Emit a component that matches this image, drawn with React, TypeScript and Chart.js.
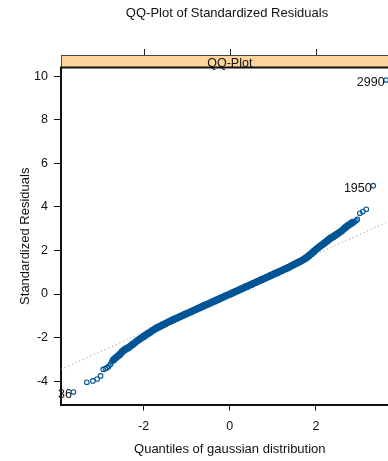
import { useEffect, useRef } from "react";
import { Chart, registerables } from "chart.js";

Chart.register(...registerables);

const chartTitle = "QQ-Plot of Standardized Residuals";
const stripLabel = "QQ-Plot";
const xAxisLabel = "Quantiles of gaussian distribution";
const yAxisLabel = "Standardized Residuals";

// lower tail: theoretical gaussian quantiles and sorted standardized residuals
const lowerTailQuantiles = [-3.63, -3.32, -3.18, -3.08, -3.0, -2.94, -2.89, -2.85, -2.81, -2.77, -2.74];
const lowerTailResiduals = [-4.5, -4.05, -3.99, -3.9, -3.76, -3.46, -3.42, -3.38, -3.32, -3.22, -3.1];

// dense central part of the sample
const centralQuantiles = [
  -2.7, -2.65, -2.6, -2.55, -2.5, -2.45, -2.4, -2.35, -2.3, -2.25,
  -2.2, -2.15, -2.1, -2.05, -2.0, -1.95, -1.9, -1.85, -1.8, -1.75,
  -1.7, -1.65, -1.6, -1.55, -1.5, -1.45, -1.4, -1.35, -1.3, -1.25,
  -1.2, -1.15, -1.1, -1.05, -1.0, -0.95, -0.9, -0.85, -0.8, -0.75,
  -0.7, -0.65, -0.6, -0.55, -0.5, -0.45, -0.4, -0.35, -0.3, -0.25,
  -0.2, -0.15, -0.1, -0.05, 0.0, 0.05, 0.1, 0.15, 0.2, 0.25,
  0.3, 0.35, 0.4, 0.45, 0.5, 0.55, 0.6, 0.65, 0.7, 0.75,
  0.8, 0.85, 0.9, 0.95, 1.0, 1.05, 1.1, 1.15, 1.2, 1.25,
  1.3, 1.35, 1.4, 1.45, 1.5, 1.55, 1.6, 1.65, 1.7, 1.75,
  1.8, 1.85, 1.9, 1.95, 2.0, 2.05, 2.1, 2.15, 2.2, 2.25,
  2.3, 2.35, 2.4, 2.45, 2.5, 2.55, 2.6, 2.65, 2.7, 2.75,
  2.8, 2.85,
];
const centralResiduals = [
  -3.02, -2.93, -2.85, -2.76, -2.65, -2.57, -2.51, -2.45, -2.38, -2.3,
  -2.23, -2.15, -2.08, -2.01, -1.95, -1.88, -1.81, -1.75, -1.68, -1.62,
  -1.56, -1.51, -1.46, -1.41, -1.36, -1.31, -1.26, -1.21, -1.17, -1.12,
  -1.08, -1.03, -0.99, -0.94, -0.9, -0.85, -0.81, -0.76, -0.72, -0.67,
  -0.63, -0.58, -0.54, -0.49, -0.45, -0.41, -0.36, -0.32, -0.27, -0.23,
  -0.18, -0.14, -0.09, -0.05, -0.01, 0.04, 0.08, 0.13, 0.17, 0.22,
  0.26, 0.31, 0.35, 0.4, 0.44, 0.49, 0.53, 0.58, 0.62, 0.67,
  0.71, 0.76, 0.8, 0.85, 0.89, 0.94, 0.98, 1.03, 1.07, 1.12,
  1.16, 1.21, 1.26, 1.31, 1.36, 1.41, 1.46, 1.51, 1.57, 1.63,
  1.7, 1.78, 1.86, 1.95, 2.04, 2.12, 2.2, 2.27, 2.34, 2.42,
  2.5, 2.57, 2.63, 2.7, 2.76, 2.83, 2.9, 2.99, 3.08, 3.15,
  3.22, 3.28,
];

// upper tail
const upperTailQuantiles = [2.89, 2.93, 2.96, 3.02, 3.09, 3.17, 3.33, 3.63];
const upperTailResiduals = [3.32, 3.36, 3.42, 3.7, 3.78, 3.89, 4.97, 9.82];

// identified observations
const idLabels = ["36", "1950", "2990"];
const idQuantiles = [lowerTailQuantiles[0], upperTailQuantiles[6], upperTailQuantiles[7]];
const idResiduals = [lowerTailResiduals[0], upperTailResiduals[6], upperTailResiduals[7]];

// reference line
const refLineX = [-3.92, 3.92];
const refLineY = [-3.46, 3.54];

const xTickValues = [-2, 0, 2];
const yTickValues = [-4, -2, 0, 2, 4, 6, 8, 10];
const xLimits = [-3.92, 3.92];
const yLimits = [-5.07, 10.37];

const FONT = "'Liberation Sans', Arial, Helvetica, sans-serif";
const POINT_COLOR = "#005596";

const W = 454;
const H = 461;
const PANEL_RIGHT = 398.6;

const toXY = (xs: number[], ys: number[]) => xs.map((x, i) => ({ x, y: ys[i] }));

const panelDecor = {
  id: "panelDecor",
  afterDatasetsDraw(chart: any) {
    const { ctx, chartArea: ca, scales } = chart;
    const xs = scales.x;
    const ys = scales.y;
    const stripH = 13;
    const stripTop = ca.top - stripH;
    ctx.save();
    ctx.fillStyle = "#FFD49A";
    ctx.fillRect(ca.left, stripTop, ca.right - ca.left, stripH);
    ctx.strokeStyle = "#4a4a4a";
    ctx.lineWidth = 1;
    ctx.beginPath();
    ctx.moveTo(ca.left, stripTop + 0.5);
    ctx.lineTo(ca.right, stripTop + 0.5);
    ctx.moveTo(ca.left + 0.5, stripTop);
    ctx.lineTo(ca.left + 0.5, ca.top);
    ctx.stroke();
    ctx.strokeStyle = "#222";
    ctx.beginPath();
    for (const t of xs.ticks) {
      const px = Math.round(xs.getPixelForValue(t.value)) + 0.5;
      ctx.moveTo(px, stripTop);
      ctx.lineTo(px, stripTop - 6);
    }
    ctx.stroke();
    ctx.strokeStyle = "#111";
    ctx.lineWidth = 2;
    ctx.beginPath();
    ctx.moveTo(ca.left - 1, ca.top - 0.5);
    ctx.lineTo(ca.right, ca.top - 0.5);
    ctx.stroke();
    ctx.fillStyle = "#111";
    ctx.font = `12.5px ${FONT}`;
    ctx.textAlign = "center";
    ctx.textBaseline = "middle";
    ctx.fillText(stripLabel, (ca.left + ca.right) / 2, stripTop + 8.5);
    ctx.textAlign = "right";
    idLabels.forEach((lab, i) => {
      const px = xs.getPixelForValue(idQuantiles[i]);
      const py = ys.getPixelForValue(idResiduals[i]);
      ctx.fillText(lab, px - 1.5, py + 2.5);
    });
    ctx.restore();
  },
};

export default function App() {
  const ref = useRef<HTMLCanvasElement | null>(null);

  useEffect(() => {
    if (!ref.current) return;
    const ringStyle = {
      pointStyle: "circle",
      pointRadius: 2.3,
      pointBorderWidth: 1.1,
      pointBackgroundColor: "rgba(0,0,0,0)",
      pointBorderColor: POINT_COLOR,
      showLine: false,
    };
    const chart = new Chart(ref.current, {
      type: "scatter",
      data: {
        datasets: [
          { data: toXY(lowerTailQuantiles, lowerTailResiduals), ...ringStyle } as any,
          {
            data: toXY(centralQuantiles, centralResiduals),
            pointStyle: "circle",
            pointRadius: 3.0,
            pointBorderWidth: 1.3,
            pointBackgroundColor: POINT_COLOR,
            pointBorderColor: POINT_COLOR,
            showLine: false,
          } as any,
          { data: toXY(upperTailQuantiles, upperTailResiduals), ...ringStyle } as any,
          {
            data: toXY(refLineX, refLineY),
            showLine: true,
            borderColor: "#8a8a8a",
            borderWidth: 1,
            borderDash: [1, 3],
            pointRadius: 0,
            fill: false,
          } as any,
        ],
      },
      options: {
        responsive: false,
        animation: false,
        devicePixelRatio: 1,
        events: [],
        layout: { padding: 0 },
        plugins: {
          legend: { display: false },
          tooltip: { enabled: false },
          title: {
            display: true,
            text: chartTitle,
            color: "#111",
            font: { family: FONT, size: 13, weight: "normal", lineHeight: 1.2 },
            padding: { top: 6, bottom: 68 - 6 - 15.6 },
          },
        },
        scales: {
          x: {
            type: "linear",
            position: "bottom",
            min: xLimits[0],
            max: xLimits[1],
            afterBuildTicks: (s: any) => {
              s.ticks = xTickValues.map((v) => ({ value: v }));
            },
            afterFit: (s: any) => {
              s.height = H - 404.5;
            },
            grid: { drawOnChartArea: false, drawTicks: true, tickLength: 6, color: "#111", lineWidth: 1 },
            border: { display: true, color: "#111", width: 2 },
            ticks: {
              color: "#111",
              padding: 9,
              maxRotation: 0,
              autoSkip: false,
              font: { family: FONT, size: 12.5 },
              callback: (v: any) => String(v),
            },
            title: {
              display: true,
              text: xAxisLabel,
              color: "#111",
              font: { family: FONT, size: 13, lineHeight: 1.2 },
              padding: { top: 0, bottom: 4.2 },
            },
          },
          y: {
            type: "linear",
            position: "left",
            min: yLimits[0],
            max: yLimits[1],
            afterBuildTicks: (s: any) => {
              s.ticks = yTickValues.map((v) => ({ value: v }));
            },
            afterFit: (s: any) => {
              s.width = 61;
            },
            grid: { drawOnChartArea: false, drawTicks: true, tickLength: 7, color: "#111", lineWidth: 1 },
            border: { display: true, color: "#111", width: 2 },
            ticks: {
              color: "#111",
              padding: 6,
              autoSkip: false,
              font: { family: FONT, size: 12.5 },
              callback: (v: any) => String(v),
            },
            title: {
              display: true,
              text: yAxisLabel,
              color: "#111",
              font: { family: FONT, size: 13, lineHeight: 1.2 },
              padding: { top: 18, bottom: 0 },
            },
          },
          yRightSpace: {
            type: "linear",
            position: "right",
            min: yLimits[0],
            max: yLimits[1],
            afterFit: (s: any) => {
              s.width = W - PANEL_RIGHT;
            },
            grid: { display: false, drawTicks: false },
            border: { display: false },
            ticks: { display: false },
            title: { display: false },
          },
        },
      },
      plugins: [panelDecor],
    });
    return () => chart.destroy();
  }, []);

  return (
    <div
      style={{
        position: "fixed",
        left: 0,
        top: 0,
        width: 388,
        height: 461,
        overflow: "hidden",
        background: "#fff",
      }}
    >
      <canvas ref={ref} width={W} height={H} style={{ display: "block", width: W, height: H }} />
    </div>
  );
}
